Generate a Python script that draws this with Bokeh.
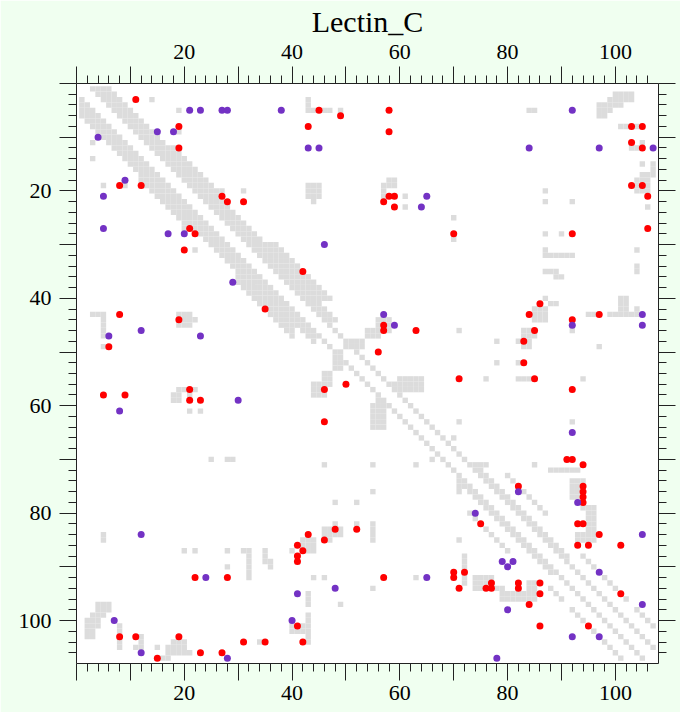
from bokeh.plotting import figure
from bokeh.models import Range1d, FixedTicker, LinearAxis, BoxAnnotation, Label
from bokeh.embed import file_html
from bokeh.resources import INLINE

N_RES = 107
TITLE = "Lectin_C"

# predicted contacts confirmed by the structure (red)
red_x = [11, 19, 19, 8, 12, 27, 28, 31, 21, 22, 20,
         45, 49, 58, 43, 58, 58, 59, 57, 59, 70, 42,
         103, 105, 103, 105, 103, 105, 106, 106, 92,
         8, 19, 6, 21, 5, 9, 21, 23,
         35, 57, 57, 63, 56, 50, 46, 46, 71,
         86, 84, 97, 92, 85, 83, 83, 85, 92, 91, 92, 94,
         82, 94, 94, 94, 94, 75, 93, 94, 97, 93, 95, 101,
         72, 77, 82, 86, 76, 77, 82, 71, 86, 101, 84, 86, 95,
         43, 48, 52, 46, 41, 42, 41, 41, 57, 70, 70, 41, 42, 35,
         22, 28, 8, 11, 19, 15, 23, 27, 31]
red_y = [3, 8, 12, 19, 19, 21, 22, 22, 27, 28, 31,
         5, 6, 5, 8, 9, 21, 21, 22, 23, 28, 35,
         8, 8, 11, 12, 19, 19, 21, 27, 28,
         43, 44, 49, 57, 58, 58, 59, 59,
         42, 45, 46, 46, 50, 56, 57, 63, 55,
         41, 43, 43, 44, 46, 48, 52, 55, 57, 70, 70, 71,
         75, 75, 76, 77, 78, 82, 82, 82, 84, 86, 86, 86,
         91, 93, 93, 93, 94, 94, 94, 94, 95, 95, 97, 101, 101,
         84, 83, 83, 85, 86, 87, 88, 89, 92, 91, 92, 101, 104, 104,
         92, 92, 103, 103, 103, 107, 106, 106, 104]

# predicted contacts absent from the structure (purple)
purple_x = [21, 23, 27, 28, 15, 18, 4, 9, 5, 5, 17, 20,
            38, 43, 45, 65, 64, 46,
            92, 84, 97, 107,
            29, 12, 6, 23, 30, 8,
            57, 59,
            105, 92, 105, 92,
            82, 93, 74, 105, 79, 81, 80, 97, 105, 80, 92, 97, 78,
            65, 48, 41, 40,
            12, 24, 7, 12, 28]
purple_y = [5, 5, 5, 5, 9, 9, 10, 18, 21, 27, 28, 28,
            5, 12, 12, 21, 23, 30,
            5, 12, 12, 12,
            37, 46, 47, 47, 59, 61,
            43, 45,
            43, 45, 45, 65,
            76, 78, 80, 84, 89, 89, 90, 91, 97, 98, 103, 103, 107,
            92, 94, 95, 100,
            84, 92, 100, 106, 107]

# structural contacts away from the diagonal: blocks x0..x1 by y0..y1 (mirrored)
blk_x0 = [7, 14, 19, 19, 16, 27, 31,
          43, 43, 49, 43, 44, 58, 57, 61, 61, 70, 70,
          84, 100, 97, 97, 99, 97, 101, 105, 103, 105, 107, 105, 104, 106, 104, 104,
          87, 87, 92, 87, 90, 87, 87, 87, 89,
          22, 18, 5,
          54, 50, 56, 60, 56, 71, 55, 63, 66,
          87, 88, 85, 95, 99, 101, 102, 92, 83, 83, 78, 82, 97, 78, 82, 76, 82, 94, 92,
          74, 85, 88,
          5, 20, 22, 28, 31, 32, 28, 4, 3, 2, 2, 8, 11, 12, 11, 15, 16, 19, 18, 17,
          55, 46, 46, 42, 42, 35, 36, 44, 49, 43, 43, 40,
          72, 75,
          92, 94, 95, 93]
blk_x1 = [8, 14, 19, 19, 18, 27, 31,
          43, 47, 49, 45, 44, 59, 57, 61, 61, 70, 70,
          85, 103, 100, 97, 99, 98, 103, 105, 105, 105, 107, 106, 106, 106, 104, 104,
          87, 87, 92, 87, 90, 87, 92, 89, 90,
          22, 19, 5,
          56, 53, 58, 64, 57, 71, 55, 63, 66,
          87, 89, 87, 97, 104, 101, 102, 92, 85, 84, 78, 82, 97, 78, 83, 76, 85, 94, 92,
          76, 85, 93,
          5, 20, 22, 28, 32, 32, 28, 6, 5, 4, 3, 8, 12, 12, 11, 15, 17, 20, 20, 21,
          55, 49, 47, 44, 43, 35, 36, 44, 49, 43, 43, 43,
          72, 75,
          94, 94, 96, 96]
blk_y0 = [3, 3, 5, 8, 12, 20, 20,
          3, 5, 5, 19, 22, 18, 19, 21, 23, 25, 28,
          5, 2, 4, 5, 5, 6, 8, 11, 12, 15, 15, 17, 18, 23, 31, 34,
          20, 22, 22, 28, 28, 31, 32, 35, 36,
          44, 58, 44,
          46, 48, 44, 55, 59, 46, 71, 71, 70,
          40, 41, 42, 43, 43, 40, 41, 46, 46, 48, 48, 48, 49, 52, 52, 55, 55, 55, 63,
          71, 71, 72,
          84, 87, 87, 87, 87, 88, 90, 97, 99, 100, 102, 101, 103, 104, 105, 105, 107, 104, 105, 106,
          82, 83, 84, 85, 87, 87, 89, 92, 97, 95, 99, 102,
          88, 92,
          74, 78, 79, 84]
blk_y1 = [4, 3, 5, 9, 13, 20, 20,
          5, 5, 6, 21, 22, 18, 22, 21, 23, 25, 29,
          5, 3, 4, 5, 5, 6, 8, 11, 12, 15, 17, 17, 20, 23, 31, 35,
          20, 22, 22, 28, 28, 31, 32, 35, 36,
          44, 59, 47,
          47, 49, 46, 57, 59, 46, 71, 71, 70,
          40, 41, 44, 43, 43, 42, 42, 46, 47, 49, 48, 48, 49, 52, 52, 55, 55, 55, 63,
          71, 71, 72,
          85, 87, 87, 87, 87, 92, 90, 98, 99, 101, 103, 105, 103, 105, 105, 105, 107, 104, 105, 106,
          85, 83, 84, 86, 87, 89, 90, 92, 97, 97, 104, 102,
          91, 93,
          77, 79, 83, 85]

# contacts along the diagonal: residue range and sequence separation range
band_i0 = [1, 13, 23, 30, 41, 45, 71, 89, 73, 88]
band_i1 = [12, 22, 29, 40, 44, 70, 88, 105, 80, 101]
band_d0 = [2, 2, 2, 2, 2, 2, 2, 2, 7, 6]
band_d1 = [5, 6, 5, 7, 4, 2, 3, 2, 7, 6]

# axis ticks
major_ticks = [0, 10, 20, 30, 40, 50, 60, 70, 80, 90, 100]
minor_ticks = list(range(2, 108, 2))
tick_labels = {t: (str(t) if t in (20, 40, 60, 80, 100) else "") for t in major_ticks}

# tick labels of the panel above, mostly off the page
strip_labels = ["10", "20", "30", "40", "50", "60"]
strip_label_x = [150, 240, 335, 438, 540, 632]


def contact_cells():
    cells = set()

    def add(i, j):
        if 1 <= i <= N_RES and 1 <= j <= N_RES:
            cells.add((i, j))
            cells.add((j, i))

    for x0, x1, y0, y1 in zip(blk_x0, blk_x1, blk_y0, blk_y1):
        for i in range(x0, x1 + 1):
            for j in range(y0, y1 + 1):
                add(i, j)
    for i0, i1, d0, d1 in zip(band_i0, band_i1, band_d0, band_d1):
        for i in range(i0, i1 + 1):
            for d in range(d0, d1 + 1):
                add(i, i + d)
    for i, j in zip(red_x, red_y):
        add(i, j)
    # residue pairs that carry a false prediction are not contacts
    for i, j in zip(purple_x, purple_y):
        cells.discard((i, j))
        cells.discard((j, i))
    return sorted(cells)


cells = contact_cells()
cell_x = [c[0] for c in cells]
cell_y = [c[1] for c in cells]

FRAME_LEFT, FRAME_TOP, FRAME_RIGHT, FRAME_BOTTOM = 76, 83, 658, 663

p = figure(width=680, height=712, output_backend="svg", toolbar_location=None,
           x_range=Range1d(0, 108), y_range=Range1d(108, 0),
           x_axis_location="above", y_axis_location="left",
           min_border_left=FRAME_LEFT, min_border_right=680 - FRAME_RIGHT,
           min_border_top=FRAME_TOP, min_border_bottom=712 - FRAME_BOTTOM)
p.border_fill_color = "#f0fff0"
p.background_fill_color = "white"
p.outline_line_color = None
p.grid.visible = False

# white panel behind the chart and the strip left by the panel above
p.add_layout(BoxAnnotation(left=15, right=677, top=8, bottom=707,
                           left_units="canvas", right_units="canvas",
                           top_units="canvas", bottom_units="canvas",
                           fill_color="white", fill_alpha=1, line_color=None, level="underlay"))
p.add_layout(BoxAnnotation(left=12, right=677, top=0, bottom=3,
                           left_units="canvas", right_units="canvas",
                           top_units="canvas", bottom_units="canvas",
                           fill_color="white", fill_alpha=1, line_color=None, level="underlay"))

p.rect(cell_x, cell_y, width=1, height=1, fill_color="#dcdcdc", line_color=None)
p.scatter(red_x, red_y, size=7, fill_color="#ff0000", line_color=None)
p.scatter(purple_x, purple_y, size=7, fill_color="#7332c4", line_color=None)

p.add_layout(LinearAxis(), "below")
p.add_layout(LinearAxis(), "right")

for ax in p.axis:
    ax.ticker = FixedTicker(ticks=major_ticks, minor_ticks=minor_ticks)
    ax.major_label_overrides = tick_labels
    ax.axis_line_color = "#222222"
    ax.major_tick_line_color = "#222222"
    ax.minor_tick_line_color = "#222222"
    ax.major_tick_in = 0
    ax.minor_tick_in = 0
    ax.major_tick_out = 17
    ax.minor_tick_out = 8
    ax.major_label_text_font = "Liberation Serif"
    ax.major_label_text_font_size = "22px"
    ax.major_label_text_color = "black"

top_axis = p.above[0]
top_axis.major_label_standoff = 8
top_axis.major_label_text_line_height = 1.0
top_axis.axis_label = TITLE
top_axis.axis_label_text_font = "Liberation Serif"
top_axis.axis_label_text_font_size = "30px"
top_axis.axis_label_text_font_style = "normal"
top_axis.axis_label_text_color = "black"
top_axis.axis_label_text_line_height = 1.0
top_axis.axis_label_standoff = 4

p.below[0].major_label_standoff = 5
p.left[0].major_label_standoff = 8
p.right[0].major_label_overrides = {t: "" for t in major_ticks}
p.right[0].major_label_standoff = 0

# frame-relative screen coordinates (y up from the frame bottom)
for txt, cx in zip(strip_labels, strip_label_x):
    p.add_layout(Label(x=cx - FRAME_LEFT, y=FRAME_BOTTOM - 3, x_units="screen", y_units="screen",
                       text=txt, text_font="Liberation Serif", text_font_size="22px",
                       text_color="black", text_align="center", text_baseline="alphabetic"))

open("out.html", "w").write(file_html(p, INLINE))
